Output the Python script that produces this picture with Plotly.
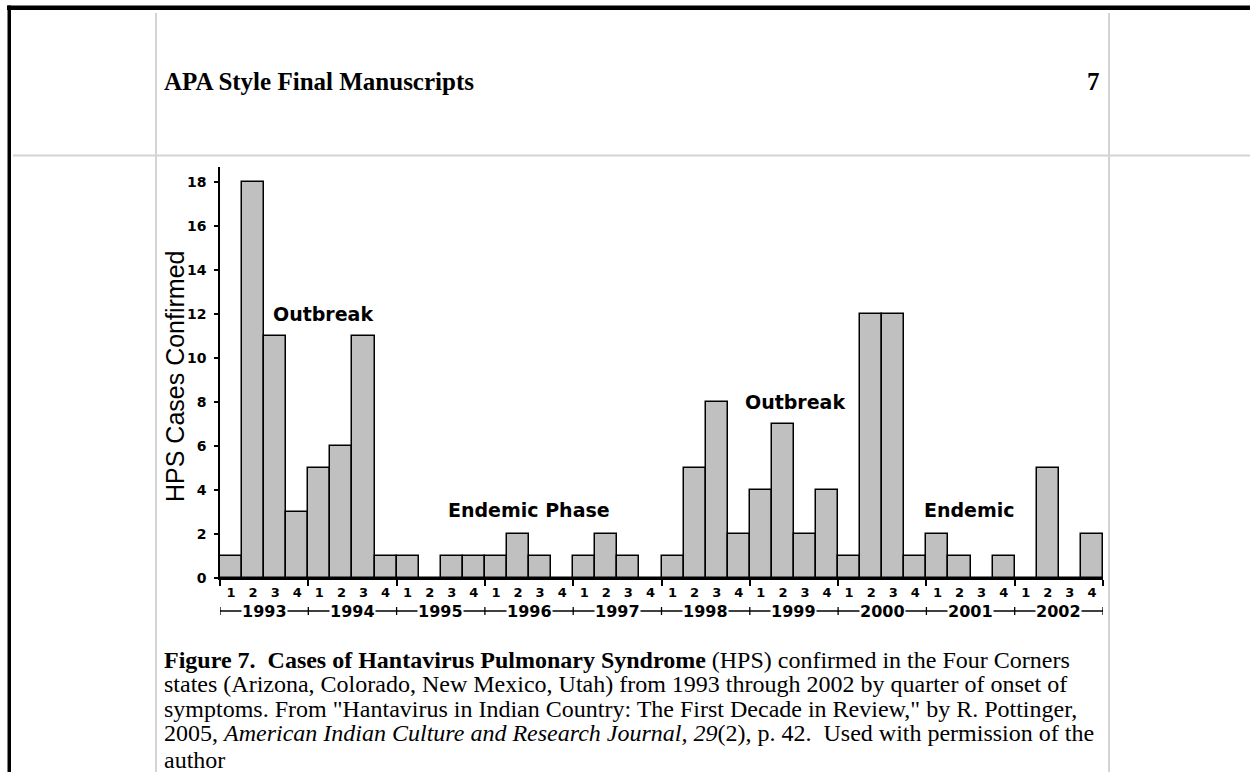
import plotly.graph_objects as go

# ---------------- data ----------------
years = ["1993", "1994", "1995", "1996", "1997", "1998", "1999", "2000", "2001", "2002"]
quarters = ["1", "2", "3", "4"]
cases = [
    1, 18, 11, 3,    # 1993
    5, 6, 11, 1,     # 1994
    1, 0, 1, 1,      # 1995
    1, 2, 1, 0,      # 1996
    1, 2, 1, 0,      # 1997
    1, 5, 8, 2,      # 1998
    4, 7, 2, 4,      # 1999
    1, 12, 12, 1,    # 2000
    2, 1, 0, 1,      # 2001
    0, 5, 0, 2,      # 2002
]
phase_labels = ["Outbreak", "Endemic Phase", "Outbreak", "Endemic"]
phase_x = [4.17, 13.48, 25.55, 33.46]
phase_y = [12.0, 3.1, 8.0, 3.1]
y_ticks = [0, 2, 4, 6, 8, 10, 12, 14, 16, 18]

n = len(cases)
xpos = list(range(n))
qlabels = [quarters[i % 4] for i in range(n)]
boundaries = [i - 0.5 for i in range(0, n + 1, 4)]
year_centers = [4 * k + 1.5 for k in range(len(years))]

# ---------------- geometry helpers (pixel -> paper) ----------------
W, H = 1250, 772
L, R, T, B = 220, 1103, 167, 578
def px(x):
    return (x - L) / (R - L)
def py(y):
    return (B - y) / (B - T)

CHART_FONT = "DejaVu Sans"
SERIF = "Liberation Serif"

fig = go.Figure()
fig.add_trace(go.Bar(
    x=xpos, y=cases,
    marker=dict(color="#c0c0c0", line=dict(color="black", width=1.5)),
    width=1.0,
    hoverinfo="skip",
))

shapes = []
# page frame
shapes.append(dict(type="rect", xref="paper", yref="paper",
                   x0=px(7), x1=px(1260), y0=py(5.5), y1=py(10),
                   fillcolor="black", line=dict(width=0), layer="above"))
shapes.append(dict(type="rect", xref="paper", yref="paper",
                   x0=px(7.5), x1=px(11), y0=py(5.5), y1=py(780),
                   fillcolor="black", line=dict(width=0), layer="above"))
for gx in (156, 1109):
    shapes.append(dict(type="line", xref="paper", yref="paper",
                       x0=px(gx), x1=px(gx), y0=py(13), y1=py(780),
                       line=dict(color="#d4d4d4", width=2)))
shapes.append(dict(type="line", xref="paper", yref="paper",
                   x0=px(13), x1=px(1260), y0=py(155.5), y1=py(155.5),
                   line=dict(color="#d4d4d4", width=2)))

# year bracket line
yr_y = py(611)
shapes.append(dict(type="line", xref="x", yref="paper",
                   x0=boundaries[0], x1=boundaries[-1], y0=yr_y, y1=yr_y,
                   line=dict(color="black", width=1.3)))
for b in boundaries:
    shapes.append(dict(type="line", xref="x", yref="paper",
                       x0=b, x1=b, y0=py(607), y1=py(615),
                       line=dict(color="black", width=1.3)))

annotations = []
for t, xx, yy in zip(phase_labels, phase_x, phase_y):
    annotations.append(dict(text=t, x=xx, y=yy, xref="x", yref="y",
                            showarrow=False, xanchor="center", yanchor="middle",
                            font=dict(family=CHART_FONT, size=19, color="black", weight="bold")))
for yr, xc in zip(years, year_centers):
    annotations.append(dict(text=yr, x=xc, y=yr_y, xref="x", yref="paper",
                            showarrow=False, xanchor="center", yanchor="middle",
                            bgcolor="white", borderpad=0,
                            font=dict(family=CHART_FONT, size=16, color="black", weight="bold")))

# y-axis title
annotations.append(dict(text="HPS Cases Confirmed", x=px(175), y=py(377),
                        xref="paper", yref="paper", textangle=-90, showarrow=False,
                        xanchor="center", yanchor="middle",
                        font=dict(family="Liberation Sans", size=25, color="black")))

# page header
annotations.append(dict(text="<b>APA Style Final Manuscripts</b>", x=px(162), y=py(82),
                        xref="paper", yref="paper", showarrow=False,
                        xanchor="left", yanchor="middle",
                        font=dict(family=SERIF, size=25, color="black")))
annotations.append(dict(text="<b>7</b>", x=px(1102), y=py(82),
                        xref="paper", yref="paper", showarrow=False,
                        xanchor="right", yanchor="middle",
                        font=dict(family=SERIF, size=25, color="black")))

# caption
caption_lines = [
    "<b>Figure 7.\u00a0 Cases of Hantavirus Pulmonary Syndrome</b> (HPS) confirmed in the Four Corners",
    "states (Arizona, Colorado, New Mexico, Utah) from 1993 through 2002 by quarter of onset of",
    "symptoms. From \"Hantavirus in Indian Country: The First Decade in Review,\" by R. Pottinger,",
    "2005, <i>American Indian Culture and Research Journal, 29</i>(2), p. 42.\u00a0 Used with permission of the",
    "author",
]
caption_y = [660, 684, 708.5, 733, 760]
for line, cy in zip(caption_lines, caption_y):
    annotations.append(dict(text=line, x=px(162), y=py(cy),
                            xref="paper", yref="paper", showarrow=False,
                            xanchor="left", yanchor="middle",
                            font=dict(family=SERIF, size=24, color="black")))

fig.update_layout(
    width=W, height=H, autosize=False,
    margin=dict(l=L, r=W - R, t=T, b=H - B, pad=0),
    paper_bgcolor="white", plot_bgcolor="white",
    bargap=0, showlegend=False,
    shapes=shapes, annotations=annotations,
    xaxis=dict(
        range=[-0.5, n - 0.5], showgrid=False, zeroline=False,
        showline=True, linecolor="black", linewidth=1.5,
        tickmode="array", tickvals=xpos, ticktext=qlabels,
        ticks="", ticklabelstandoff=2,
        tickfont=dict(family=CHART_FONT, size=13, color="black", weight="bold"),
        minor=dict(tickmode="array", tickvals=boundaries, ticks="outside",
                   ticklen=6, tickwidth=1.5, tickcolor="black"),
        fixedrange=True,
    ),
    yaxis=dict(
        range=[0, 18.7], showgrid=False, zeroline=False,
        showline=True, linecolor="black", linewidth=1.5,
        tickmode="array", tickvals=y_ticks,
        ticks="outside", ticklen=4, tickwidth=1.5, tickcolor="black",
        ticklabelstandoff=5,
        tickfont=dict(family=CHART_FONT, size=14, color="black", weight="bold"),
        fixedrange=True,
    ),
)

fig.write_html("out.html", config={"displayModeBar": False},
               post_script="document.body.style.margin='0';document.body.style.overflow='hidden';")
